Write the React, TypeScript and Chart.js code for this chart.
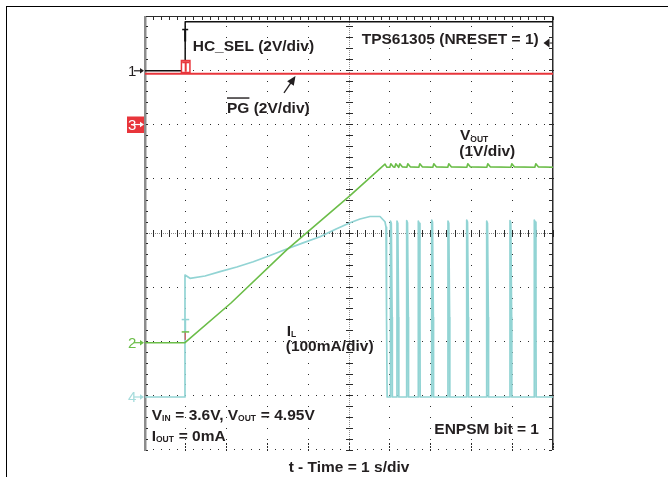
import React, { useEffect, useRef } from 'react';
import { Chart, registerables } from 'chart.js';

Chart.register(...registerables);

// ---- data: time in s (1 s/div), level in screen divisions (0 = bottom graticule line) ----
const hcSelTime = [0, 0.985, 0.985, 10];
const hcSelLevel = [6.99, 6.99, 7.895, 7.895];

const pgTime = [0, 10];
const pgLevel = [6.935, 6.935];

const voutTime = [0, 0.98, 2.108, 3.473, 5.025, 5.882, 5.93];
const voutLevel = [1.978, 1.978, 2.71, 3.69, 4.69, 5.27, 5.211];
const voutRippleTimes = [6.005, 6.127, 6.225, 6.422, 6.716, 7.059, 7.426, 7.892, 8.382, 8.971, 9.559];
const voutRippleBase = 5.211;
const voutRipplePeak = 5.275;

const ilTime = [0, 0.98, 0.98, 1.103, 1.47, 1.838, 2.25, 2.654, 3.064, 3.473, 3.873, 4.289, 4.657, 5.025, 5.27, 5.515, 5.76, 5.882, 5.907, 5.91, 5.93, 5.935];
const ilLevel = [0.977, 0.977, 3.226, 3.165, 3.207, 3.287, 3.373, 3.471, 3.586, 3.705, 3.818, 3.932, 4.064, 4.19, 4.258, 4.304, 4.304, 4.208, 4.111, 2.5, 2.45, 0.977];
const ilPulseTimes = [6.017, 6.176, 6.414, 6.699, 7.027, 7.426, 7.885, 8.375, 8.946, 9.542];
const ilPulsePeaks = [4.22, 4.22, 4.23, 4.22, 4.24, 4.22, 4.24, 4.22, 4.23, 4.24];
const ilPulseKnee = 2.45;
const ilFloor = 0.977;

const markerLabels = ['1', '3', '2', '4'];
const markerLevels = [6.99, 6.0, 1.978, 0.977];

const xAxisTitle = 't - Time = 1 s/div';

// ---- styles ----
const FONT = '"Liberation Sans", Arial, Helvetica, sans-serif';
const INK = '#231f20';
const RED = '#e8353b';
const GREEN = '#6bbd48';
const CYAN = '#92d4d4';
const CYAN_LABEL = '#a6dcdc';

function buildVout() {
  const pts = voutTime.map((t, i) => ({ x: t, y: voutLevel[i] }));
  voutRippleTimes.forEach((t) => {
    pts.push({ x: t - 0.005, y: voutRippleBase }, { x: t + 0.02, y: voutRipplePeak }, { x: t + 0.08, y: voutRippleBase + 0.008 });
  });
  pts.push({ x: 10, y: voutRippleBase });
  return pts;
}

function buildIL() {
  const pts = ilTime.map((t, i) => ({ x: t, y: ilLevel[i] }));
  ilPulseTimes.forEach((t, i) => {
    pts.push(
      { x: t, y: ilFloor },
      { x: t, y: ilPulsePeaks[i] },
      { x: t + 0.02, y: ilPulsePeaks[i] - 0.04 },
      { x: t + 0.04, y: ilPulseKnee },
      { x: t + 0.045, y: ilFloor }
    );
  });
  pts.push({ x: 10, y: ilFloor });
  return pts;
}

function runs(ctx: CanvasRenderingContext2D, x: number, y: number, parts: [string, boolean?][]) {
  let cx = x;
  for (const [t, sub] of parts) {
    ctx.font = `bold ${sub ? 8.5 : 15.5}px ${FONT}`;
    ctx.fillText(t, cx, sub ? y + 1.5 : y);
    cx += ctx.measureText(t).width + (sub ? 0.5 : 0);
  }
  return cx;
}

const graticule = {
  id: 'graticule',
  beforeDatasetsDraw(chart: any) {
    const { ctx, scales: { x, y }, chartArea: a } = chart;
    const X = (v: number) => x.getPixelForValue(v);
    const Y = (v: number) => y.getPixelForValue(v);
    const dot = (px: number, py: number, w = 1, h = 1) => ctx.fillRect(Math.floor(px), Math.floor(py), w, h);
    ctx.save();
    ctx.fillStyle = '#2b2b2b';
    for (let i = 1; i < 10; i++) {
      if (i === 5) continue;
      for (let j = 0; j <= 40; j++) dot(X(i), Y(j * 0.2));
    }
    for (let j = 1; j < 8; j++) {
      if (j === 4) continue;
      for (let i = 0; i <= 50; i++) dot(X(i * 0.2), Y(j));
    }
    const cx = X(5), cy = Y(4);
    ctx.fillStyle = '#8a8a8a';
    for (let py = a.top; py <= a.bottom; py += 2) dot(cx, py);
    for (let px = a.left; px <= a.right; px += 2) dot(px, cy);
    ctx.fillStyle = '#2b2b2b';
    for (let j = 0; j <= 40; j++) dot(cx - 3, Y(j * 0.2), 7, 1);
    for (let i = 0; i <= 50; i++) dot(X(i * 0.2), cy - 3, 1, 7);
    // top edge
    ctx.fillRect(a.left, Math.floor(a.top), a.right - a.left, 1);
    for (let i = 0; i <= 50; i++) dot(X(i * 0.2), a.top + 1, 1, 3);
    // right edge
    ctx.fillRect(Math.floor(a.right) - 1, a.top, 1.5, a.bottom - a.top);
    for (let j = 0; j <= 40; j++) dot(a.right - 4, Y(j * 0.2), 3, 1);
    // bottom edge
    for (let i = 0; i <= 50; i++) dot(X(i * 0.2), a.bottom - 1);
    for (let i = 0; i <= 10; i++) {
      dot(X(i), a.bottom - 7, 1, 2);
      dot(X(i), a.bottom - 4, 1, 2);
    }
    // left edge
    ctx.fillStyle = '#8c8c8c';
    ctx.fillRect(a.left - 1, a.top, 2.5, a.bottom - a.top + 1);
    ctx.fillStyle = '#2b2b2b';
    for (let j = 0; j <= 40; j++) dot(a.left + 1.5, Y(j * 0.2), 2, 1);
    ctx.restore();
  },
};

const annotations = {
  id: 'scopeAnnotations',
  afterDatasetsDraw(chart: any) {
    const { ctx, scales: { x, y }, chartArea: a } = chart;
    const X = (v: number) => x.getPixelForValue(v);
    const Y = (v: number) => y.getPixelForValue(v);
    ctx.save();
    ctx.textAlign = 'left';
    ctx.textBaseline = 'alphabetic';

    // trigger / cursor marks
    const tx = X(0.985);
    ctx.fillStyle = '#111';
    ctx.fillRect(tx - 3, Y(7.755) - 0.5, 6, 1.5);
    ctx.fillRect(tx - 1, Y(7.755), 2, Y(7.53) - Y(7.755));
    ctx.fillStyle = RED;
    ctx.fillRect(tx - 4.5, Y(6.935) - 14, 10, 14);
    ctx.fillStyle = '#fff';
    ctx.fillRect(tx - 3, Y(6.935) - 12, 7, 10);
    ctx.fillStyle = RED;
    ctx.fillRect(tx - 0.5, Y(6.935) - 12, 2, 10);
    ctx.fillRect(tx - 3, Y(6.935) - 12, 7, 1.5);

    ctx.fillStyle = CYAN;
    ctx.fillRect(tx - 3.5, Y(2.409) - 0.5, 7.5, 1.5);
    ctx.fillRect(tx - 0.5, Y(2.409), 1.5, Y(2.181) - Y(2.409));
    ctx.fillStyle = GREEN;
    ctx.fillRect(tx - 3.5, Y(2.181) - 0.5, 7.5, 1.5);
    ctx.fillStyle = RED;
    ctx.fillRect(tx - 0.5, Y(2.181) + 1, 1, Y(2.03) - Y(2.181) - 1);

    // left channel markers
    const markerColors = [INK, '#fff', GREEN, CYAN_LABEL];
    markerLabels.forEach((lab, i) => {
      const py = Y(markerLevels[i]);
      const r = a.left - 1;
      const c = markerColors[i];
      if (lab === '3') {
        ctx.fillStyle = RED;
        ctx.fillRect(r - 17, py - 8, 17, 16.5);
      }
      ctx.fillStyle = c;
      ctx.strokeStyle = c;
      ctx.font = `15px "Liberation Sans Narrow", "Liberation Sans", sans-serif`;
      ctx.fillText(lab, r - 16, py + 5.5);
      ctx.lineWidth = 1.2;
      ctx.beginPath();
      ctx.moveTo(r - 10, py);
      ctx.lineTo(r - 2, py);
      ctx.stroke();
      ctx.beginPath();
      ctx.moveTo(r, py);
      ctx.lineTo(r - 4, py - 2.8);
      ctx.lineTo(r - 4, py + 2.8);
      ctx.closePath();
      ctx.fill();
    });

    // texts
    ctx.fillStyle = INK;
    runs(ctx, X(1.169), Y(7.355), [['HC_SEL (2V/div)']]);
    runs(ctx, X(5.311), Y(7.493), [['TPS61305 (NRESET = 1)']]);
    const pgx = X(2.01), pgy = Y(6.217);
    const pgEnd = runs(ctx, pgx, pgy, [['PG']]);
    runs(ctx, pgEnd, pgy, [[' (2V/div)']]);
    ctx.fillRect(pgx, pgy - 15.4, pgEnd - pgx, 1.4);
    runs(ctx, X(7.721), Y(5.714), [['V'], ['OUT', true]]);
    runs(ctx, X(7.703), Y(5.419), [['(1V/div)']]);
    runs(ctx, X(3.473), Y(2.107), [['I'], ['L', true]]);
    runs(ctx, X(3.449), Y(1.834), [['(100mA/div)']]);
    runs(ctx, X(0.164), Y(0.553), [['V'], ['IN', true], [' = 3.6V, V'], ['OUT', true], [' = 4.95V']]);
    runs(ctx, X(0.164), Y(0.171), [['I'], ['OUT', true], [' = 0mA']]);
    runs(ctx, X(7.091), Y(0.289), [['ENPSM bit = 1']]);

    // PG arrow
    const ax0 = X(3.407), ay0 = Y(6.581), ax1 = X(3.689), ay1 = Y(6.894);
    const ang = Math.atan2(ay1 - ay0, ax1 - ax0);
    ctx.strokeStyle = INK;
    ctx.lineWidth = 1.3;
    ctx.beginPath();
    ctx.moveTo(ax0, ay0);
    ctx.lineTo(ax1 - 5 * Math.cos(ang), ay1 - 5 * Math.sin(ang));
    ctx.stroke();
    ctx.beginPath();
    ctx.moveTo(ax1, ay1);
    ctx.lineTo(ax1 - 9 * Math.cos(ang) + 4 * Math.sin(ang), ay1 - 9 * Math.sin(ang) - 4 * Math.cos(ang));
    ctx.lineTo(ax1 - 9 * Math.cos(ang) - 4 * Math.sin(ang), ay1 - 9 * Math.sin(ang) + 4 * Math.cos(ang));
    ctx.closePath();
    ctx.fill();

    // trigger level arrow on the right
    const rx = X(9.767), ry = Y(7.502);
    ctx.beginPath();
    ctx.moveTo(rx, ry);
    ctx.lineTo(rx + 6, ry - 4.5);
    ctx.lineTo(rx + 6, ry + 4.5);
    ctx.closePath();
    ctx.fill();
    ctx.fillRect(rx + 6, ry - 0.5, a.right - rx - 6, 1);
    ctx.restore();
  },
};

export default function App() {
  const ref = useRef<HTMLCanvasElement>(null);
  useEffect(() => {
    const hcSel = hcSelTime.map((t, i) => ({ x: t, y: hcSelLevel[i] }));
    const pg = pgTime.map((t, i) => ({ x: t, y: pgLevel[i] }));
    const chart = new Chart(ref.current as HTMLCanvasElement, {
      type: 'line',
      data: {
        datasets: [
          { label: 'HC_SEL', data: hcSel, borderColor: '#111', borderWidth: 1.5, order: 1 },
          { label: 'PG', data: pg, borderColor: RED, borderWidth: 2, order: 2 },
          { label: 'VOUT', data: buildVout(), borderColor: GREEN, borderWidth: 1.6, order: 3 },
          { label: 'IL', data: buildIL(), borderColor: CYAN, borderWidth: 1.7, order: 4 },
        ] as any,
      },
      options: {
        responsive: false,
        animation: false,
        events: [],
        layout: { padding: { left: 145, right: 115, top: 16, bottom: 0 } },
        elements: {
          point: { radius: 0 },
          line: { tension: 0, borderJoinStyle: 'round', borderCapStyle: 'butt', fill: false },
        },
        plugins: { legend: { display: false }, tooltip: { enabled: false } },
        scales: {
          x: {
            type: 'linear',
            min: 0,
            max: 10,
            display: true,
            grid: { display: false, drawTicks: false },
            border: { display: false },
            ticks: { display: false },
            title: {
              display: true,
              text: xAxisTitle,
              color: INK,
              font: { family: FONT, size: 15.5, weight: 'bold' },
              padding: { top: 8.4, bottom: 0 },
            },
          },
          y: { type: 'linear', min: 0, max: 8, display: false },
        },
      } as any,
      plugins: [graticule, annotations],
    });
    return () => chart.destroy();
  }, []);
  return (
    <div style={{ position: 'absolute', left: 0, top: 0, width: 668, height: 477, background: '#fff', overflow: 'hidden' }}>
      <div
        style={{
          position: 'absolute',
          left: 5.5,
          top: 6.3,
          width: 700,
          height: 500,
          borderLeft: '1.5px solid #000',
          borderTop: '1.5px solid #000',
        }}
      />
      <canvas ref={ref} width={668} height={477} style={{ position: 'absolute', left: 0, top: 0, width: 668, height: 477 }} />
    </div>
  );
}
